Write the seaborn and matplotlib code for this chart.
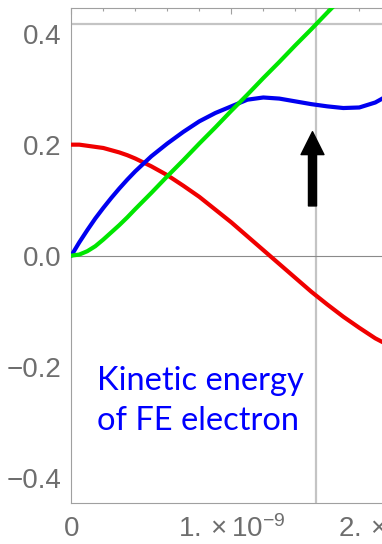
import matplotlib
matplotlib.use("Agg")
import matplotlib.pyplot as plt
import seaborn as sns
import pandas as pd
from matplotlib.ticker import MultipleLocator, FuncFormatter

# time in units of 1e-9
t_ns = [0, 0.05, 0.1, 0.15, 0.2, 0.25, 0.3, 0.35, 0.4, 0.5, 0.6, 0.7, 0.8, 0.9,
        1.0, 1.1, 1.2, 1.3, 1.4, 1.5, 1.6, 1.7, 1.8, 1.9, 2.0, 2.1, 2.2]
red_vals = [0.200, 0.200, 0.198, 0.196, 0.194, 0.190, 0.186, 0.181, 0.175, 0.161,
            0.145, 0.126, 0.106, 0.083, 0.060, 0.035, 0.010, -0.015, -0.040,
            -0.065, -0.088, -0.110, -0.130, -0.149, -0.164, -0.177, -0.188]
green_vals = [0.000, 0.002, 0.008, 0.017, 0.029, 0.042, 0.055, 0.069, 0.084, 0.113,
              0.143, 0.172, 0.202, 0.231, 0.261, 0.290, 0.320, 0.349, 0.379, 0.408,
              0.438, 0.467, 0.497, 0.526, 0.556, 0.585, 0.615]
blue_vals = [0.000, 0.024, 0.046, 0.067, 0.086, 0.104, 0.121, 0.137, 0.152, 0.179,
             0.202, 0.223, 0.242, 0.257, 0.269, 0.281, 0.285, 0.283, 0.278, 0.273,
             0.269, 0.266, 0.267, 0.276, 0.292, 0.305, 0.312]

marker_t_ns = 1.528     # vertical gray reference line
marker_level = 0.4175   # horizontal gray reference line
arrow_t_ns = 1.5075
arrow_tail, arrow_tip = 0.0896, 0.2234
label_lines = ["Kinetic energy", "of FE electron"]

sns.set_style("white")
plt.rcParams["font.family"] = ["Liberation Sans", "DejaVu Sans"]
plt.rcParams["mathtext.fontset"] = "custom"
plt.rcParams["mathtext.rm"] = "Liberation Sans"
plt.rcParams["mathtext.it"] = "Liberation Sans:italic"

df = pd.DataFrame({"t": [v * 1e-9 for v in t_ns], "red": red_vals,
                   "green": green_vals, "blue": blue_vals})

fig = plt.figure(figsize=(3.82, 5.44), dpi=100)
ax = fig.add_axes([71.3 / 382, 41 / 544, 352 / 382, (503 - 8.3) / 544])
ax.set_xlim(0, 2.2e-9)
ax.set_ylim(-0.4457, 0.4457)

gray_ref = "#c4c4c4"
ax.axvline(marker_t_ns * 1e-9, color=gray_ref, lw=1.6, zorder=1)
ax.axhline(marker_level, color=gray_ref, lw=1.6, zorder=1)
ax.axhline(0, color="#8a8a8a", lw=0.8, zorder=1)

lw = 3.0
sns.lineplot(data=df, x="t", y="red", color="#f00000", lw=lw, ax=ax, zorder=3)
sns.lineplot(data=df, x="t", y="blue", color="#0000f0", lw=lw, ax=ax, zorder=4)
sns.lineplot(data=df, x="t", y="green", color="#00e600", lw=lw, ax=ax, zorder=5)

ax.annotate("", xy=(arrow_t_ns * 1e-9, arrow_tip), xytext=(arrow_t_ns * 1e-9, arrow_tail),
            arrowprops=dict(arrowstyle="simple,head_width=16.5,head_length=16.5,tail_width=5.8",
                            mutation_scale=1, color="black", shrinkA=0, shrinkB=0),
            zorder=6)

tx = 0.16e-9
ax.text(tx, -0.242, label_lines[0], color="#0000ff", fontsize=23.5,
        family=["Lato", "DejaVu Sans"], va="baseline", ha="left")
ax.text(tx, -0.314, label_lines[1], color="#0000ff", fontsize=23.5,
        family=["Lato", "DejaVu Sans"], va="baseline", ha="left")

ax.set_xlabel("")
ax.set_ylabel("")

spine_c = "#a0a0a0"
for s in ax.spines.values():
    s.set_color(spine_c)
    s.set_linewidth(0.8)

ax.xaxis.set_major_locator(MultipleLocator(1e-9))
ax.xaxis.set_minor_locator(MultipleLocator(0.2e-9))
ax.yaxis.set_major_locator(MultipleLocator(0.2))
ax.yaxis.set_minor_locator(MultipleLocator(0.05))


def xfmt(v, pos):
    n = int(round(v / 1e-9))
    if n == 0:
        return "0"
    return r"$%d.\times10^{-9}$" % n


def yfmt(v, pos):
    return ("%.1f" % v).replace("-", "\u2212")


ax.xaxis.set_major_formatter(FuncFormatter(xfmt))
ax.yaxis.set_major_formatter(FuncFormatter(yfmt))
ax.tick_params(which="both", direction="in", top=True, right=True, colors=spine_c,
               labelcolor="#6e6e6e", labelsize=20, width=0.8)
ax.tick_params(which="major", length=4)
ax.tick_params(which="minor", length=2.2)
ax.tick_params(axis="y", pad=7)
ax.tick_params(axis="x", pad=9)

fig.savefig("out.png", dpi=100)
